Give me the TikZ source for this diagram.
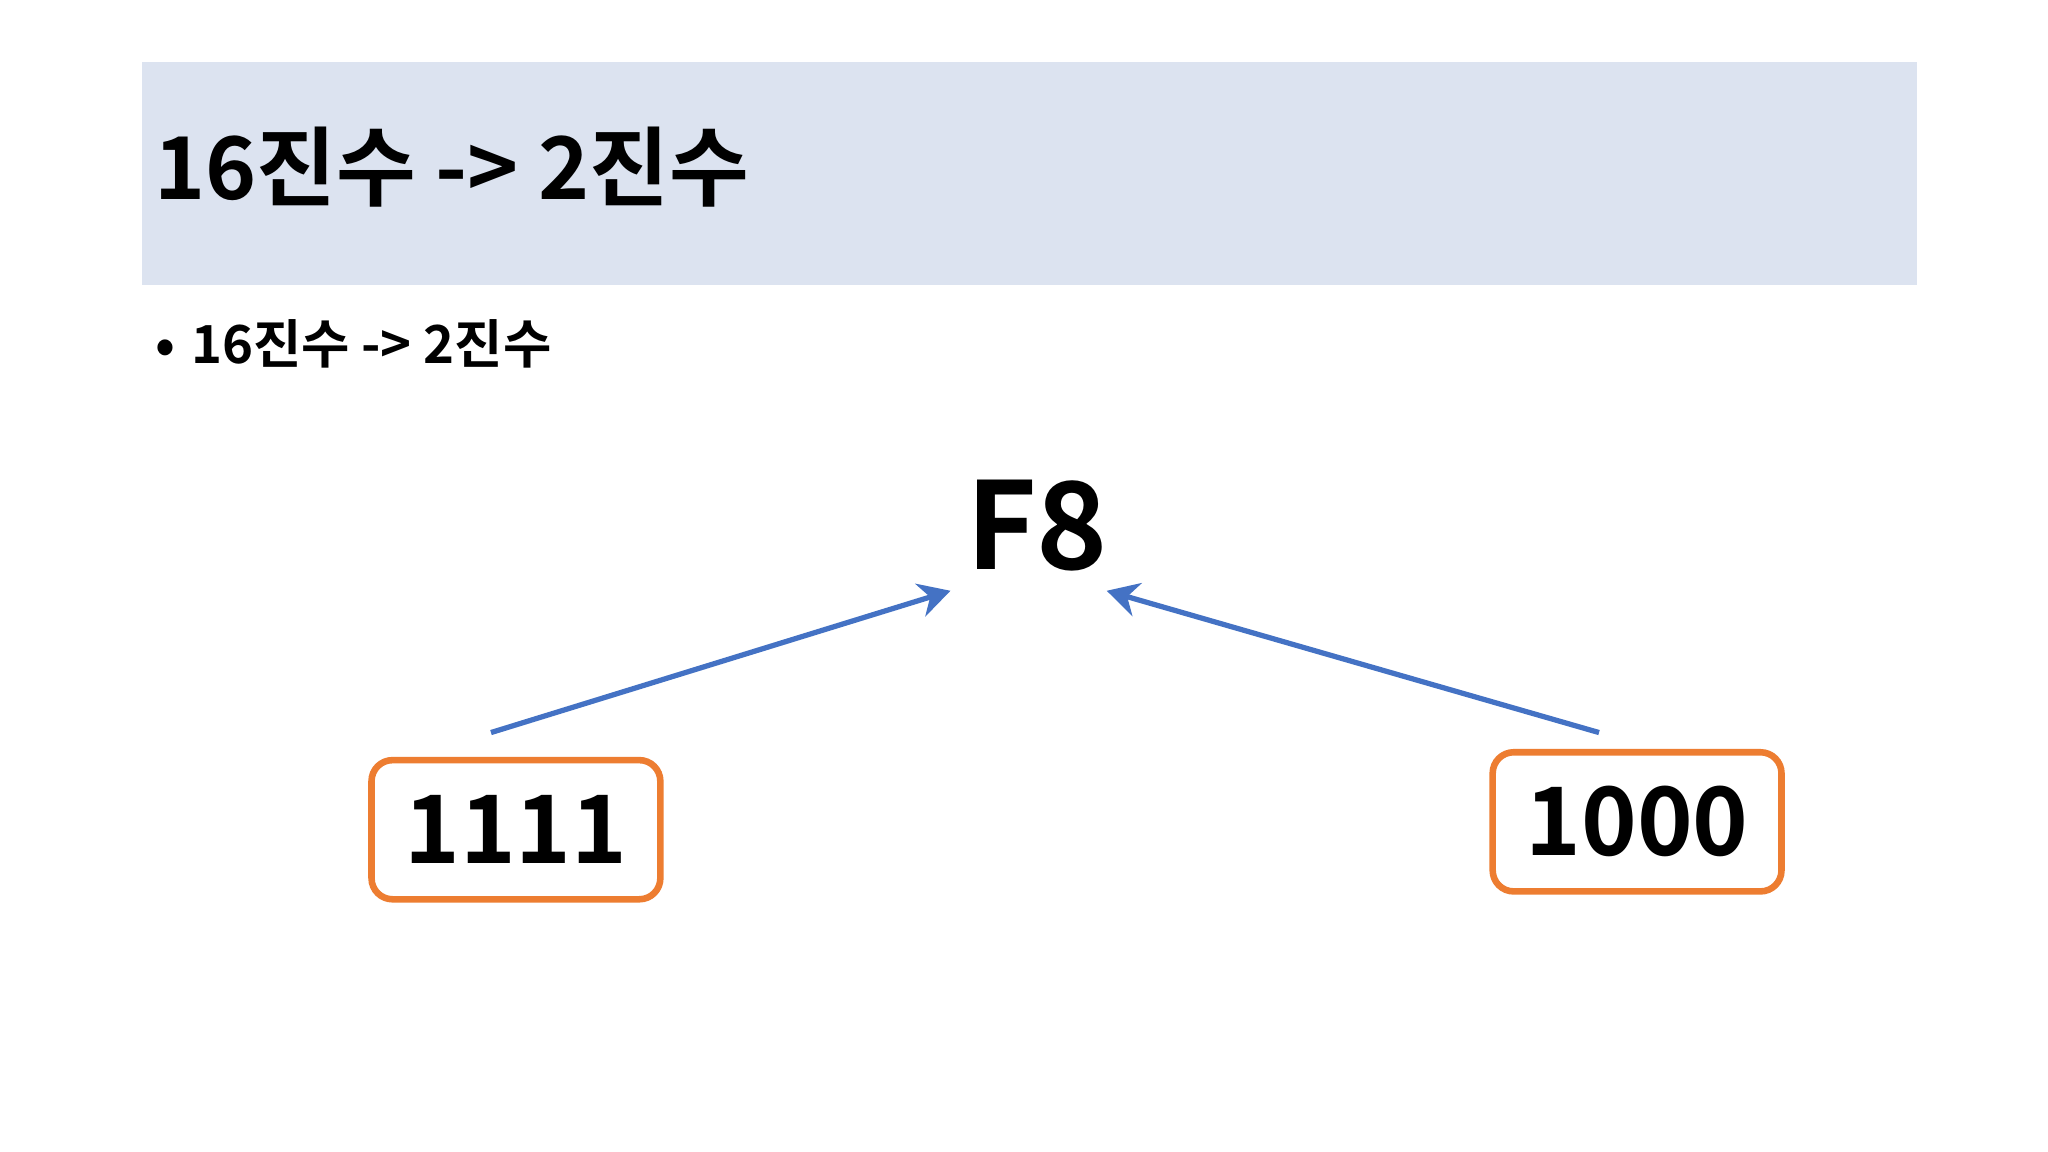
\documentclass[tikz,border=0pt]{standalone}
\usepackage{fontspec}
\setmainfont{Noto Sans CJK KR}[BoldFont={Noto Sans CJK KR Bold}]
\usetikzlibrary{arrows.meta}
\definecolor{band}{HTML}{DCE3F0}
\definecolor{orng}{HTML}{ED7D31}
\definecolor{blu}{HTML}{4472C4}
\tikzset{
  numbox/.style={draw=orng,line width=2.5pt,rounded corners=8pt,minimum width=110pt,minimum height=53pt,inner sep=0pt,font=\fontsize{36}{40}\selectfont\bfseries},
  conn/.style={draw=blu,line width=2pt,-{Stealth[length=12pt,width=13pt]}}
}
\begin{document}
\begin{tikzpicture}[x=0.5pt,y=-0.5pt]
\useasboundingbox[fill=white] (0,0) rectangle (1560,877.5);
\fill[band] (108,47) rectangle (1460,217);
\node[anchor=west,inner sep=0pt,font=\fontsize{33}{40}\selectfont\bfseries] (title) at (117,127) {16진수 -> 2진수};
\node[anchor=west,inner sep=0pt,font=\fontsize{20}{24}\selectfont\bfseries] (bul) at (118,262) {•\hspace{6pt}16진수 -> 2진수};
\node[inner sep=0pt,font=\fontsize{46}{50}\selectfont\bfseries] (f8) at (790,400) {F8};
\node[numbox] (b1) at (393,632) {1111};
\node[numbox] (b2) at (1247,626) {1000};
\coordinate (s1) at (374,558);
\coordinate (t1) at (724,450);
\coordinate (s2) at (1218,558);
\coordinate (t2) at (843,450);
\draw[conn] (s1) -- (t1);
\draw[conn] (s2) -- (t2);
\end{tikzpicture}
\end{document}
